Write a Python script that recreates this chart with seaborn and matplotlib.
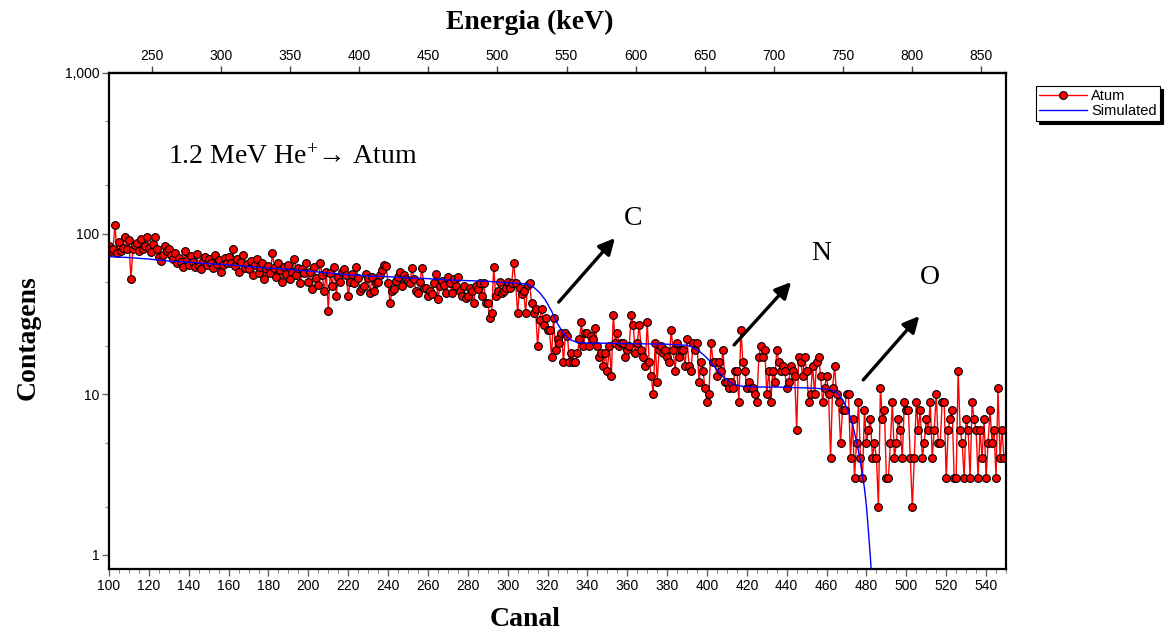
import numpy as np
import pandas as pd
import matplotlib
matplotlib.use("Agg")
import matplotlib.pyplot as plt
import seaborn as sns
from matplotlib.ticker import FixedLocator, MultipleLocator, LogLocator, FuncFormatter, NullFormatter

# ---------------- data ----------------
channel_start = 100
channel_end = 549

counts_100 = [84, 78, 80, 113, 76, 89, 78, 82, 95, 80,
              91, 52, 80, 85, 88, 78, 92, 80, 84, 96,
              82, 77, 86, 95, 80, 72, 68, 74, 84, 78]
counts_130 = [80, 74, 70, 76, 66, 71, 67, 62, 78, 69,
              64, 73, 67, 62, 75, 63, 60, 68, 72, 64,
              70, 66, 61, 74, 65, 69, 58, 64, 71, 66]
counts_160 = [72, 66, 80, 63, 70, 58, 67, 74, 61, 65,
              60, 68, 55, 64, 70, 57, 62, 66, 52, 60,
              63, 57, 76, 61, 54, 66, 59, 50, 62, 56,
              64, 52, 58, 70, 55, 61, 49, 60, 57, 66]
counts_200 = [50, 58, 45, 62, 53, 48, 66, 55, 44, 58,
              33, 57, 47, 62, 41, 54, 50, 58, 60, 55,
              41, 50, 56, 49, 62, 53, 44, 46, 47, 56,
              53, 43, 54, 44, 49, 50, 55, 59, 64, 63,
              49, 37, 44, 45, 51, 54, 58, 47, 55, 52]
counts_250 = [51, 49, 61, 52, 44, 43, 50, 61, 46, 46,
              41, 44, 42, 49, 56, 39, 47, 51, 48, 43,
              54, 49, 43, 52, 47, 54, 44, 41, 47, 40,
              41, 46, 44, 37, 47, 45, 49, 41, 49, 37,
              37, 30, 32, 62, 41, 44, 50, 43, 44, 46,
              50, 46, 49, 66, 49, 32, 46, 42, 44, 32]
counts_310 = [48, 49, 37, 32, 34, 20, 29, 34, 27, 30,
              25, 25, 17, 30, 19, 22, 21, 24, 16, 24,
              23, 16, 18, 16, 16, 18, 22, 28, 20, 24,
              24, 20, 23, 22, 26, 20, 17, 18, 15, 18,
              14, 20, 13, 31, 21, 24, 20, 21, 21, 17,
              19, 20, 31, 27, 18, 21, 27, 19, 17, 15,
              28, 16, 13, 10, 21, 12, 19, 20, 18, 19,
              17, 16, 25, 19, 14, 21, 17, 19, 19, 15,
              22, 15, 14, 21, 19, 21, 12, 16, 14, 11]
counts_400 = [9, 10, 21, 16, 16, 13, 16, 14, 19, 12,
              12, 11, 12, 11, 14, 14, 9, 25, 16, 14,
              11, 12, 11, 11, 10, 9, 17, 20, 17, 19,
              10, 14, 9, 14, 12, 19, 16, 14, 15, 14,
              11, 12, 15, 14, 13, 6, 17, 16, 13, 17,
              14, 9, 10, 15, 10, 16, 17, 13, 9, 11]
counts_460 = [13, 10, 4, 11, 15, 10, 9, 5, 8, 8,
              10, 10, 4, 7, 3, 5, 9, 4, 3, 8,
              5, 6, 7, 4, 5, 4, 2, 11, 7, 8,
              3, 3, 5, 9, 4, 5, 7, 6, 4, 9,
              8, 8, 4, 2, 4, 9, 6, 8, 4, 5,
              7, 6, 9, 4, 6, 10, 5, 5, 9, 9,
              3, 6, 7, 8, 3, 3, 14, 6, 5, 3,
              7, 6, 3, 9, 7, 6, 3, 6, 4, 7,
              3, 5, 8, 5, 6, 3, 11, 4, 6, 4]

sim_channel = [100, 110, 120, 130, 140, 150, 160, 170, 180, 190, 200, 210, 220, 230, 240,
               250, 260, 270, 280, 290, 300, 305, 310, 313, 316, 319, 322, 325, 328, 331,
               335, 340, 350, 360, 370, 380, 390, 393, 396, 399, 402, 405, 408, 411, 414,
               418, 425, 435, 445, 455, 462, 465, 468, 471, 473, 475, 477, 479, 480, 481,
               482, 483]
sim_counts = [72, 71, 69.5, 67.5, 66.5, 65, 64, 62.5, 61, 60, 58.5, 57, 55.5, 54.5, 54,
              53, 52.5, 51.5, 51, 50.5, 49.5, 49.2, 48.5, 46.5, 43, 38.5, 33, 27.5, 24, 22,
              21, 20.8, 20.8, 20.7, 20.6, 20.5, 20.2, 19.6, 18.6, 17.3, 15.8, 14.2, 12.9, 12, 11.5,
              11.2, 11.1, 11.1, 11, 10.9, 10.7, 10.3, 9.3, 7.8, 6.5, 5.1, 3.8, 2.6, 2.0, 1.4,
              0.95, 0.62]

canal_ticks = list(range(100, 541, 20))
energy_ticks = [250, 300, 350, 400, 450, 500, 550, 600, 650, 700, 750, 800, 850]
y_ticks = [1, 10, 100, 1000]
kev_per_channel = 1.442
kev_offset = 74.8

peak_labels = ["C", "N", "O"]
peak_label_pos = [(362.8, 125), (457.3, 75.7), (512.0, 53.7)]
arrow_tails = [(325.6, 37.5), (413.6, 20.3), (478.4, 12.3)]
arrow_heads = [(353.8, 93.9), (442.2, 50.0), (506.5, 30.7)]

counts = counts_100 + counts_130 + counts_160 + counts_200 + counts_250 + counts_310 + counts_400 + counts_460
channels = list(range(channel_start, channel_end + 1))
df = pd.DataFrame({"Canal": channels, "Contagens": counts})
sim_df = pd.DataFrame({"Canal": sim_channel, "Contagens": sim_counts})

# ---------------- style ----------------
sns.set_style("ticks")
plt.rcParams['font.family'] = ['Liberation Sans', 'DejaVu Sans']
plt.rcParams['text.color'] = 'black'
plt.rcParams['axes.labelcolor'] = 'black'
plt.rcParams['xtick.color'] = 'black'
plt.rcParams['ytick.color'] = 'black'
plt.rcParams['mathtext.fontset'] = 'custom'
plt.rcParams['mathtext.rm'] = 'Liberation Serif'
plt.rcParams['mathtext.it'] = 'Liberation Serif:italic'
plt.rcParams['mathtext.bf'] = 'Liberation Serif:bold'
serif = ['Liberation Serif', 'DejaVu Serif']

W, H = 1168, 639
fig = plt.figure(figsize=(W / 100, H / 100), dpi=100)
ax = fig.add_axes([109 / W, 1 - 569 / H, (1006 - 109) / W, (569 - 73) / H])

sns.lineplot(data=df, x="Canal", y="Contagens", ax=ax, color="red", linewidth=1.0,
             marker="o", markersize=5.6, markerfacecolor="red", markeredgecolor="black",
             markeredgewidth=0.8, legend=False, zorder=2)
sns.lineplot(data=sim_df, x="Canal", y="Contagens", ax=ax, color="blue", linewidth=1.0,
             legend=False, zorder=3)

ax.set_yscale("log")
ax.set_xlim(100, 550)
ax.set_ylim(0.818, 1000)
ax.set_xlabel("")
ax.set_ylabel("")

ax.xaxis.set_major_locator(FixedLocator(canal_ticks))
ax.xaxis.set_minor_locator(MultipleLocator(5))
ax.yaxis.set_major_locator(FixedLocator(y_ticks))
ax.yaxis.set_major_formatter(FuncFormatter(lambda v, p: f"{v:,.0f}"))
ax.yaxis.set_minor_locator(LogLocator(base=10, subs=(2, 5)))
ax.yaxis.set_minor_formatter(NullFormatter())

ax.tick_params(axis="both", which="major", direction="out", length=5, width=1,
               color="#666666", labelsize=10, labelcolor="black", pad=2)
ax.tick_params(axis="both", which="minor", direction="out", length=3, width=0.8, color="#888888")
for s in ax.spines.values():
    s.set_linewidth(1.6)
    s.set_color("black")

sec = ax.secondary_xaxis("top", functions=(lambda c: kev_per_channel * c + kev_offset,
                                           lambda e: (e - kev_offset) / kev_per_channel))
sec.xaxis.set_major_locator(FixedLocator(energy_ticks))
sec.tick_params(axis="x", which="major", direction="out", length=5, width=1,
                color="#444444", labelsize=10, labelcolor="black", pad=2)
sec.tick_params(axis="x", which="minor", length=0)
sec.spines["top"].set_linewidth(1.6)

# axis titles
fig.text(525 / W, 1 - 620 / H, "Canal", ha="center", va="center",
         fontsize=20, fontweight="bold", family=serif, color="black")
fig.text(530 / W, 1 - 22 / H, "Energia (keV)", ha="center", va="center",
         fontsize=20, fontweight="bold", family=serif, color="black")
fig.text(28 / W, 1 - 338 / H, "Contagens", ha="center", va="center", rotation=90,
         fontsize=20, fontweight="bold", family=serif, color="black")

# annotations
ax.text(129.6, 300, "1.2 MeV He$^{+}$\u2192 Atum", ha="left", va="center",
        fontsize=20, family=serif, color="black")
for lab, pos, tail, head in zip(peak_labels, peak_label_pos, arrow_tails, arrow_heads):
    ax.text(pos[0], pos[1], lab, ha="center", va="center", fontsize=20, family=serif, color="black")
    ax.annotate("", xy=head, xytext=tail,
                arrowprops=dict(arrowstyle="-|>", lw=2.4, color="black", mutation_scale=24,
                                shrinkA=0, shrinkB=0))

# legend
handles = ax.get_lines()[:2]
leg = fig.legend(handles, ["Atum", "Simulated"], loc="upper right",
                 bbox_to_anchor=(1160 / W, 1 - 86 / H), frameon=True, fancybox=False,
                 shadow={"color": "black", "alpha": 1.0}, edgecolor="black", fontsize=10.5,
                 handlelength=3.3, borderpad=0.2, labelspacing=0.1, handletextpad=0.3,
                 borderaxespad=0)
leg.get_frame().set_linewidth(0.8)
for t in leg.get_texts():
    t.set_color("black")

fig.savefig("out.png", dpi=100)
